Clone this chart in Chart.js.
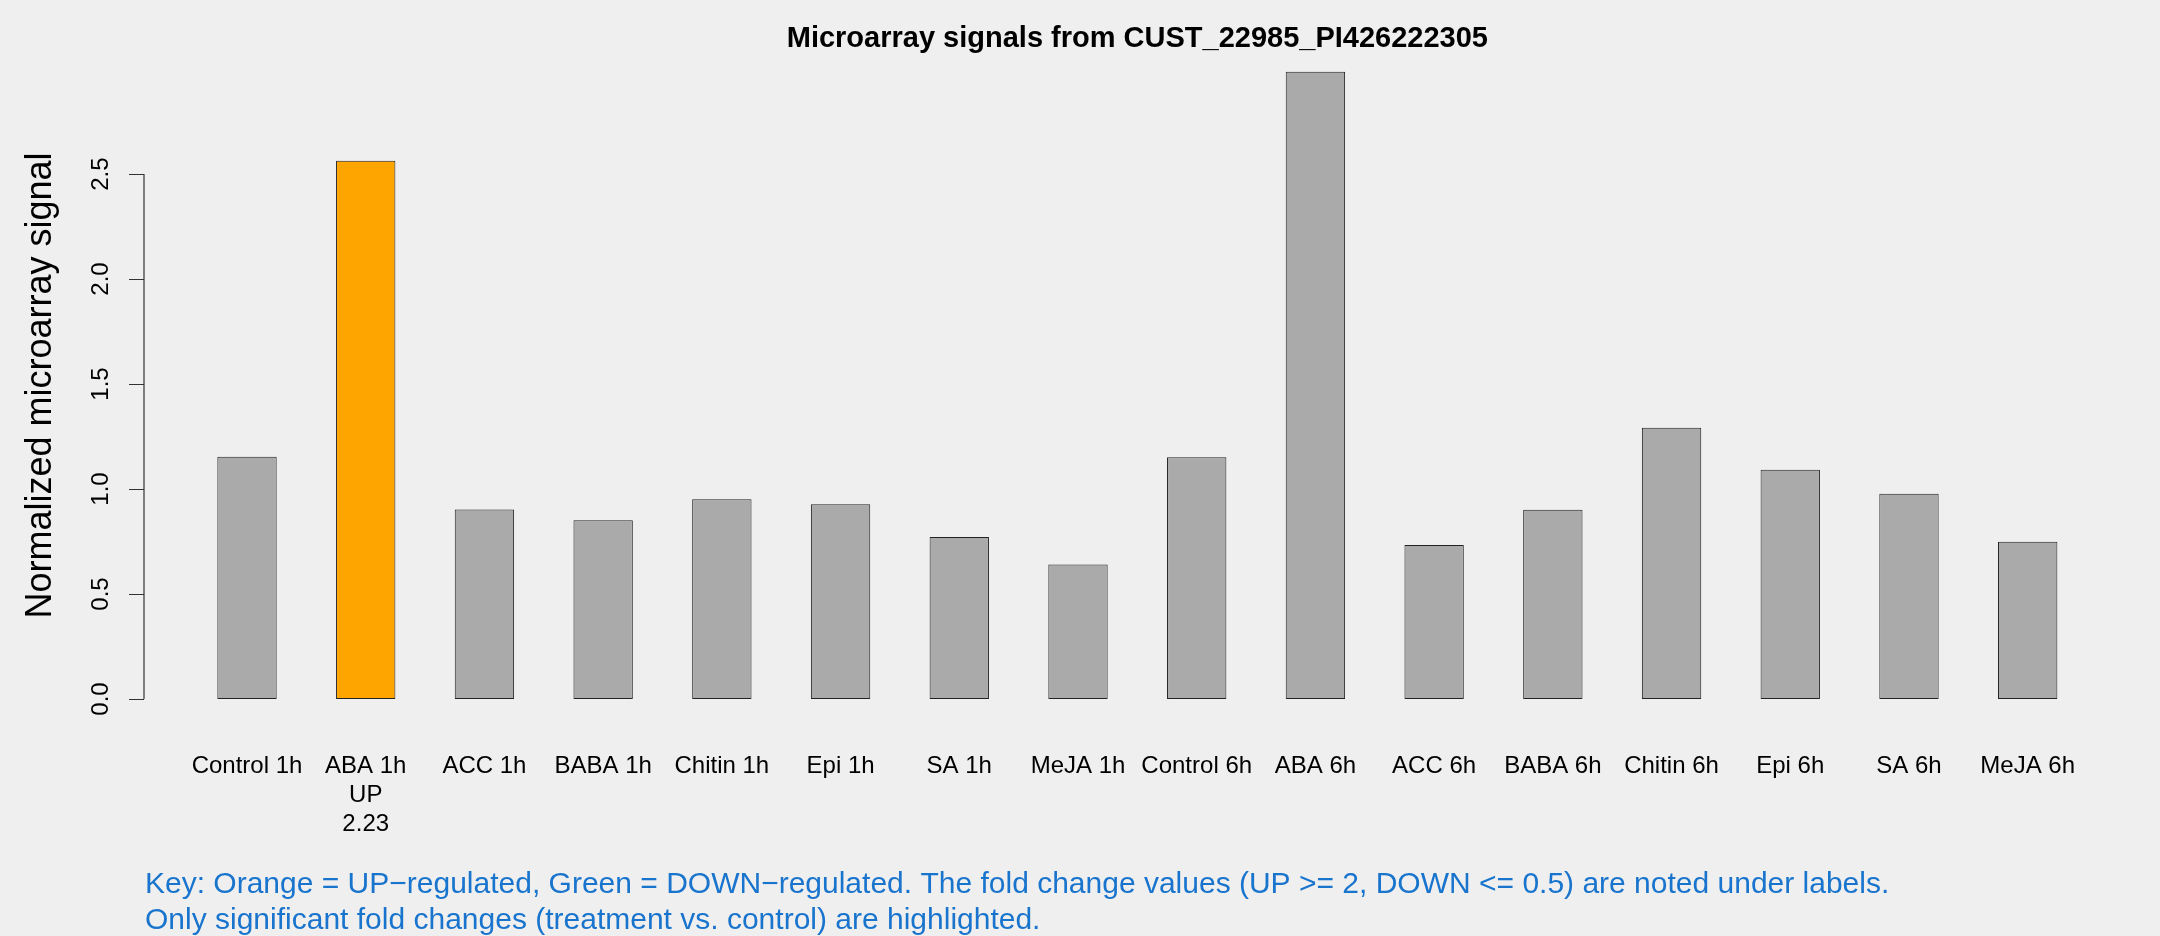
<!DOCTYPE html>
<html>
<head>
<meta charset="utf-8">
<script src="https://cdn.jsdelivr.net/npm/chart.js@4.4.1/dist/chart.umd.min.js"></script>
<style>
    html, body { margin: 0; padding: 0; background: #EFEFEF; }
    canvas { display: block; }
</style>
</head>
<body>
<canvas id="chart" width="2160" height="936"></canvas>
<script>
const categories = ['Control 1h', 'ABA 1h', 'ACC 1h', 'BABA 1h', 'Chitin 1h', 'Epi 1h', 'SA 1h', 'MeJA 1h',
    'Control 6h', 'ABA 6h', 'ACC 6h', 'BABA 6h', 'Chitin 6h', 'Epi 6h', 'SA 6h', 'MeJA 6h'];
const signal = [1.154, 2.563, 0.903, 0.851, 0.951, 0.927, 0.771, 0.641,
    1.151, 2.987, 0.733, 0.901, 1.292, 1.092, 0.978, 0.749];
const regulation = ['', 'UP', '', '', '', '', '', '', '', '', '', '', '', '', '', ''];
const foldChange = [null, '2.23', null, null, null, null, null, null, null, null, null, null, null, null, null, null];
const yTicks = [0, 0.5, 1, 1.5, 2, 2.5];

const titleText = 'Microarray signals from CUST_22985_PI426222305';
const yTitle = 'Normalized microarray signal';
const keyLines = [
    'Key: Orange = UP\u2212regulated, Green = DOWN\u2212regulated. The fold change values (UP >= 2, DOWN <= 0.5) are noted under labels.',
    'Only significant fold changes (treatment vs. control) are highlighted.'
];

const FONT = "'Liberation Sans', Arial, Helvetica, sans-serif";
const AXIS_GAP = 43.65;   // R puts the y axis a bit left of the first slot

const tickLabels = categories.map((c, i) => {
    if (!regulation[i]) return c;
    return [c, regulation[i], foldChange[i]];
});
const barColors = regulation.map(r => r === 'UP' ? '#FFA500' : (r === 'DOWN' ? '#00C000' : '#AAAAAA'));

// axis, tick labels, main title and key, drawn R-style
const rStyle = {
    id: 'rStyle',
    afterDraw(chart) {
        const ctx = chart.ctx;
        const ys = chart.scales.y;
        const area = chart.chartArea;
        const axisX = area.left - AXIS_GAP;
        const plotRight = area.right + AXIS_GAP;
        ctx.save();

        ctx.strokeStyle = '#333';
        ctx.lineWidth = 1.2;
        ctx.beginPath();
        ctx.moveTo(axisX, ys.getPixelForValue(yTicks[0]));
        ctx.lineTo(axisX, ys.getPixelForValue(yTicks[yTicks.length - 1]));
        yTicks.forEach(v => {
            const py = Math.round(ys.getPixelForValue(v)) + 0.5;
            ctx.moveTo(axisX, py);
            ctx.lineTo(axisX - 15, py);
        });
        ctx.stroke();

        ctx.fillStyle = '#000';
        ctx.font = '24px ' + FONT;
        ctx.textAlign = 'center';
        ctx.textBaseline = 'middle';
        yTicks.forEach(v => {
            ctx.save();
            ctx.translate(axisX - 43, ys.getPixelForValue(v));
            ctx.rotate(-Math.PI / 2);
            ctx.fillText(v.toFixed(1), 0, 0);
            ctx.restore();
        });

        ctx.font = 'bold 29px ' + FONT;
        ctx.textBaseline = 'alphabetic';
        ctx.fillText(titleText, (axisX + plotRight) / 2, 47);

        ctx.font = '30px ' + FONT;
        ctx.fillStyle = '#1874CD';
        ctx.textAlign = 'left';
        keyLines.forEach((line, i) => ctx.fillText(line, 145, 893 + i * 36));
        ctx.restore();
    }
};

new Chart(document.getElementById('chart'), {
    type: 'bar',
    data: {
        labels: tickLabels,
        datasets: [{
            data: signal,
            backgroundColor: barColors,
            borderColor: '#222',
            borderWidth: 1,
            borderSkipped: false,
            categoryPercentage: 1.0,
            barPercentage: 0.5
        }]
    },
    options: {
        responsive: false,
        animation: false,
        layout: { padding: { left: 0, right: 72.95, top: 47, bottom: 0 } },
        plugins: {
            legend: { display: false },
            tooltip: { enabled: false },
            title: { display: false }
        },
        scales: {
            x: {
                grid: { display: false, drawTicks: false },
                border: { display: false },
                ticks: {
                    autoSkip: false,
                    maxRotation: 0,
                    minRotation: 0,
                    padding: 28.3,
                    color: '#000',
                    font: { family: FONT, size: 24, lineHeight: 1.2 }
                },
                afterFit(scale) { scale.height = 212; }
            },
            y: {
                min: -0.119,
                max: 3.105,
                grid: { display: false, drawTicks: false },
                border: { display: false },
                ticks: { display: false },
                title: {
                    display: true,
                    text: yTitle,
                    color: '#000',
                    font: { family: FONT, size: 36, lineHeight: 1.2 },
                    padding: { top: 19, bottom: 0 }
                },
                afterFit(scale) { scale.width = 187.65; }
            }
        }
    },
    plugins: [rStyle]
});
</script>
</body>
</html>
